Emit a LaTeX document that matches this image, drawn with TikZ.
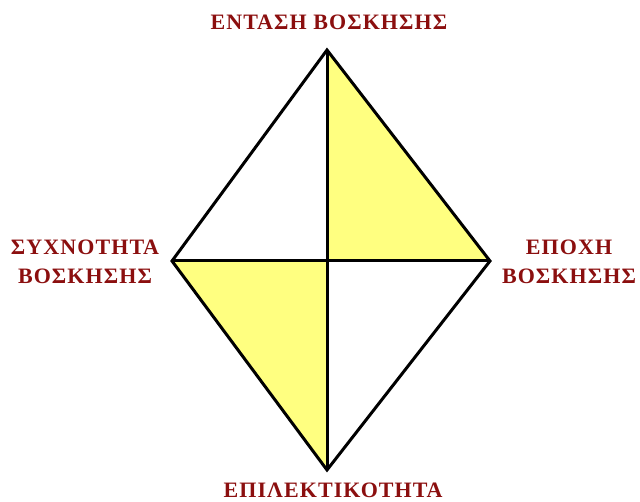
\documentclass[tikz,border=0pt]{standalone}
\usepackage{fontspec}
\setmainfont{Liberation Serif}
\definecolor{lbl}{HTML}{8B0F0F}
\definecolor{fillY}{HTML}{FFFF80}
\begin{document}
\begin{tikzpicture}[x=1pt,y=1pt,
  lab/.style={text=lbl,font=\bfseries\fontsize{22}{29}\selectfont\addfontfeature{LetterSpace=5},inner sep=0pt,align=center},
  edge/.style={line width=3pt,line join=miter,black}]
\useasboundingbox (0,0) rectangle (640,502);
\coordinate (T) at (327,452);
\coordinate (R) at (490,241);
\coordinate (B) at (327,32);
\coordinate (L) at (172,241);
\coordinate (C) at (327,241);
\fill[fillY] (T) -- (C) -- (R) -- cycle;
\fill[fillY] (L) -- (C) -- (B) -- cycle;
\draw[edge] (T) -- (R) -- (B) -- (L) -- cycle;
\draw[edge] (T) -- (B);
\draw[edge] (L) -- (R);
\node[lab,anchor=base] (tl) at (329,472) {ΕΝΤΑΣΗ ΒΟΣΚΗΣΗΣ};
\node[lab] (ll) at (85,240) {ΣΥΧΝΟΤΗΤΑ\\ΒΟΣΚΗΣΗΣ};
\node[lab] (rl) at (569,240) {ΕΠΟΧΗ\\ΒΟΣΚΗΣΗΣ};
\node[lab,anchor=base] (bl) at (333,4.5) {ΕΠΙΛΕΚΤΙΚΟΤΗΤΑ};
\end{tikzpicture}
\end{document}
